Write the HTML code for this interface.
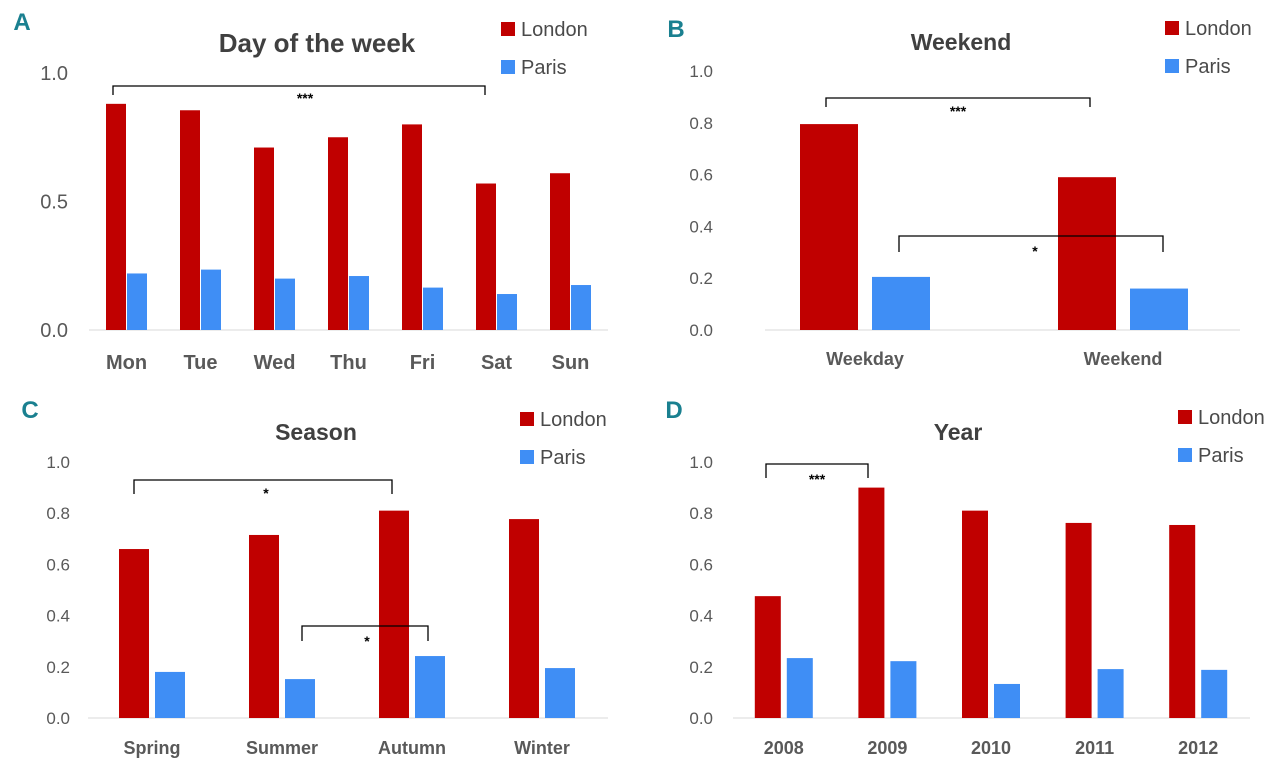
<!DOCTYPE html>
<html><head><meta charset="utf-8"><style>
body{margin:0;background:#fff;}
svg{display:block;font-family:"Liberation Sans",sans-serif;}
</style></head><body>
<svg id="chart" width="1280" height="768" viewBox="0 0 1280 768"></svg>
<script>
const catsA=["Mon","Tue","Wed","Thu","Fri","Sat","Sun"];
const londonA=[0.88,0.855,0.71,0.75,0.80,0.57,0.61];
const parisA=[0.22,0.235,0.20,0.21,0.165,0.14,0.175];
const ticksA=["0.0","0.5","1.0"];
const catsB=["Weekday","Weekend"];
const londonB=[0.795,0.59];
const parisB=[0.205,0.16];
const ticksB=["0.0","0.2","0.4","0.6","0.8","1.0"];
const catsC=["Spring","Summer","Autumn","Winter"];
const londonC=[0.66,0.715,0.81,0.777];
const parisC=[0.18,0.152,0.242,0.195];
const catsD=["2008","2009","2010","2011","2012"];
const londonD=[0.476,0.90,0.81,0.762,0.754];
const parisD=[0.234,0.222,0.133,0.191,0.188];
const ticksCD=["0.0","0.2","0.4","0.6","0.8","1.0"];

const svg=document.getElementById('chart');
const NS="http://www.w3.org/2000/svg";
function mk(tag,attrs,parent){const e=document.createElementNS(NS,tag);for(const k in attrs)e.setAttribute(k,attrs[k]);(parent||svg).appendChild(e);return e;}
function txt(s,x,y,size,fill,weight,anchor,parent){const t=mk('text',{x:x,y:y,'font-size':size,fill:fill,'font-weight':weight||'normal','text-anchor':anchor||'middle'},parent);t.textContent=s;return t;}

function panel(p){
  const g=mk('g',{});
  
  
  const ys=v=>p.y0-(p.y0-p.y1)*v;
  const step=(p.x1-p.x0)/p.cats.length;
  const cx=i=>p.x0+step*(i+0.5);
  const pl=txt(p.id,p.lx,p.ly,24,'#1a8090','bold','middle',g);
  
  const ti=txt(p.title,p.tx,p.ty,p.tsize,'#404040','bold','middle',g);
  
  p.ticks.forEach(t=>{const el=txt(t,p.tickX,ys(parseFloat(t))+p.tfs*0.35,p.tfs,'#595959','normal','end',g);
    });
  const ax=mk('line',{x1:p.ax0,x2:p.ax1,y1:p.y0,y2:p.y0,stroke:'#d9d9d9','stroke-width':1},g);
  
  p.cats.forEach((c,i)=>{
    const vL=p.london[i],vP=p.paris[i];
    const r1=mk('rect',{x:cx(i)-p.off-p.bw/2,y:ys(vL),width:p.bw,height:p.y0-ys(vL),fill:'#c00000'},g);
    
    const r2=mk('rect',{x:cx(i)+p.off-p.bw/2,y:ys(vP),width:p.bw,height:p.y0-ys(vP),fill:'#3f8ef5'},g);
    
    const cl=txt(c,cx(i),p.cy,p.cfs,'#595959','bold','middle',g);
    
  });
  p.brackets.forEach(b=>{
    const pa=mk('path',{d:`M${b[0]},${b[3]}V${b[2]}H${b[1]}V${b[3]}`,fill:'none',stroke:'#000','stroke-width':1.3},g);
    
    const st=txt(b[4],b[5],b[6],14,'#000','bold','middle',g);
    
  });
  [['London','#c00000',0],['Paris','#3f8ef5',1]].forEach(l=>{
    const y=p.legY+l[2]*p.legDy;
    const lg=mk('g',{},g);
    
    mk('rect',{x:p.legX,y:y-7,width:14,height:14,fill:l[1]},lg);
    txt(l[0],p.legX+20,y+7,20,'#4a4a4a','normal','start',lg);
  });
}
panel({id:'A',title:'Day of the week',tx:317,ty:52,tsize:26,lx:22,ly:30,cats:catsA,london:londonA,paris:parisA,ticks:ticksA,
  y0:330,y1:73,x0:89.5,x1:607.5,bw:20,off:10.5,tickX:68,tfs:20,ax0:89,ax1:608,cy:369,cfs:20,
  legX:501,legY:29,legDy:38,brackets:[[113,485,86,95,'***',305,103]]});
panel({id:'B',title:'Weekend',tx:961,ty:50,tsize:23,lx:676,ly:37,cats:catsB,london:londonB,paris:parisB,ticks:ticksB,
  y0:330,y1:71,x0:736,x1:1252,bw:58,off:36,tickX:713,tfs:17,ax0:765,ax1:1240,cy:365,cfs:18,
  legX:1165,legY:28,legDy:38,brackets:[[826,1090,98,107,'***',958,116],[899,1163,236,252,'*',1035,256]]});
panel({id:'C',title:'Season',tx:316,ty:440,tsize:23,lx:30,ly:418,cats:catsC,london:londonC,paris:parisC,ticks:ticksCD,
  y0:718,y1:462,x0:87,x1:607,bw:30,off:18,tickX:70,tfs:17,ax0:88,ax1:608,cy:754,cfs:18,
  legX:520,legY:419,legDy:38,brackets:[[134,392,480,494,'*',266,498],[302,428,626,641,'*',367,646]]});
panel({id:'D',title:'Year',tx:958,ty:440,tsize:23,lx:674,ly:418,cats:catsD,london:londonD,paris:parisD,ticks:ticksCD,
  y0:718,y1:462,x0:732,x1:1250,bw:26,off:16,tickX:713,tfs:17,ax0:733,ax1:1250,cy:754,cfs:18,
  legX:1178,legY:417,legDy:38,brackets:[[766,868,464,478,'***',817,484]]});
</script>
</body></html>
